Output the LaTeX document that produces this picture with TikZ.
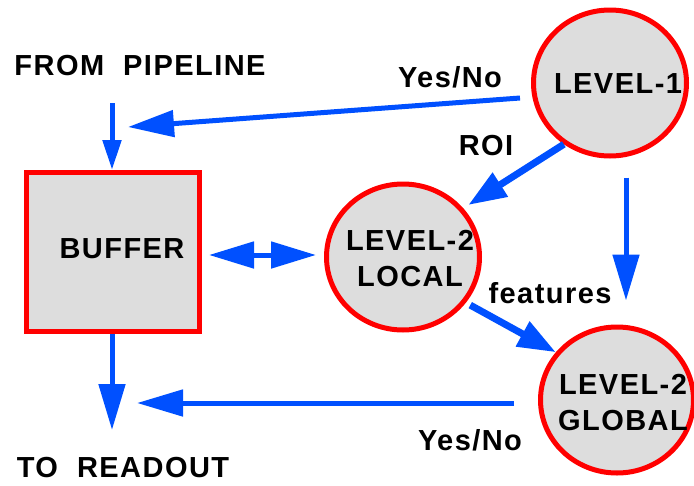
\documentclass[tikz,border=0pt]{standalone}
\usepackage{fontspec}
\setmainfont{Liberation Sans}[LetterSpace=5]
\usetikzlibrary{shapes.geometric, arrows.meta, positioning}
\definecolor{flowblue}{RGB}{0, 80, 255}
\definecolor{boxred}{RGB}{255, 0, 0}
\definecolor{boxgray}{RGB}{221, 221, 221}

\begin{document}
\begin{tikzpicture}[
  x=1pt, y=-1pt,
  lbl/.style={font=\fontsize{29}{36}\selectfont\bfseries, align=center, inner sep=0pt},
  stage/.style={ellipse, draw=boxred, fill=boxgray, line width=5pt, minimum width=153pt, minimum height=146pt, inner sep=0pt},
  arr/.style={draw=flowblue, line width=5pt, arrows={-Triangle[length=46pt, width=26pt]}},
  dblarr/.style={arr, arrows={Triangle[length=45pt, width=26pt]-Triangle[length=45pt, width=26pt]}},
  diagarr/.style={arr, line width=7pt, arrows={-Triangle[length=38pt, width=27pt]}}
]
  \useasboundingbox (0,0) rectangle (694,485);

  % boxes and stages
  \node[draw=boxred, fill=boxgray, line width=5pt, minimum width=173pt, minimum height=159pt, inner sep=0pt] (buffer) at (113,252) {};
  \node[stage] (level1) at (610,83) {};
  \node[stage] (local) at (403,257) {};
  \node[stage] (global) at (617,400) {};

  \node[lbl] (bufferlbl) at ([shift={(9,-3)}]buffer.center) {BUFFER};
  \node[lbl] (level1lbl) at ([shift={(8,1)}]level1.center) {LEVEL-1};
  \node[lbl] (locallbl) at ([shift={(7,2)}]local.center) {LEVEL-2\\LOCAL};
  \node[lbl] (globallbl) at ([shift={(6,3)}]global.center) {LEVEL-2\\GLOBAL};

  % in and out
  \node[lbl] (pipeline) at (140,66) {FROM\ \ PIPELINE};
  \node[lbl] (readout) at (123,468) {TO\ \ READOUT};
  \coordinate (pipein) at (112,103);
  \coordinate (readin) at (112,430);
  \coordinate (tipyes) at (128,127);
  \coordinate (tipno) at (137,403);
  \coordinate (vline) at (626,0);

  \draw[arr, arrows={-Triangle[length=30pt, width=18pt]}] (pipein) -- (pipein |- buffer.north);
  \draw[arr] (readin |- buffer.south) -- (readin);
  \draw[dblarr, shorten <=7pt, shorten >=8pt] ([shift={(0,3)}]buffer.east) -- ([shift={(0,-2)}]local.west);

  % decisions
  \draw[arr] ([shift={(-11,15)}]level1.west) -- (tipyes);
  \draw[diagarr, shorten >=6pt] (level1.233) -- (local.39);
  \draw[arr, shorten <=19pt, shorten >=24pt] (level1.south -| vline) -- (global.north -| vline);
  \draw[diagarr, shorten <=5pt] (local.-36) -- (global.142);
  \draw[arr, shorten <=24pt] (global.west |- tipno) -- (tipno);

  \node[lbl] (yesno1) at (450,77) {Yes/No};
  \node[lbl] (roi) at (486,146) {ROI};
  \node[lbl] (feat) at (550,293) {features};
  \node[lbl] (yesno2) at (470,440) {Yes/No};
\end{tikzpicture}
\end{document}
